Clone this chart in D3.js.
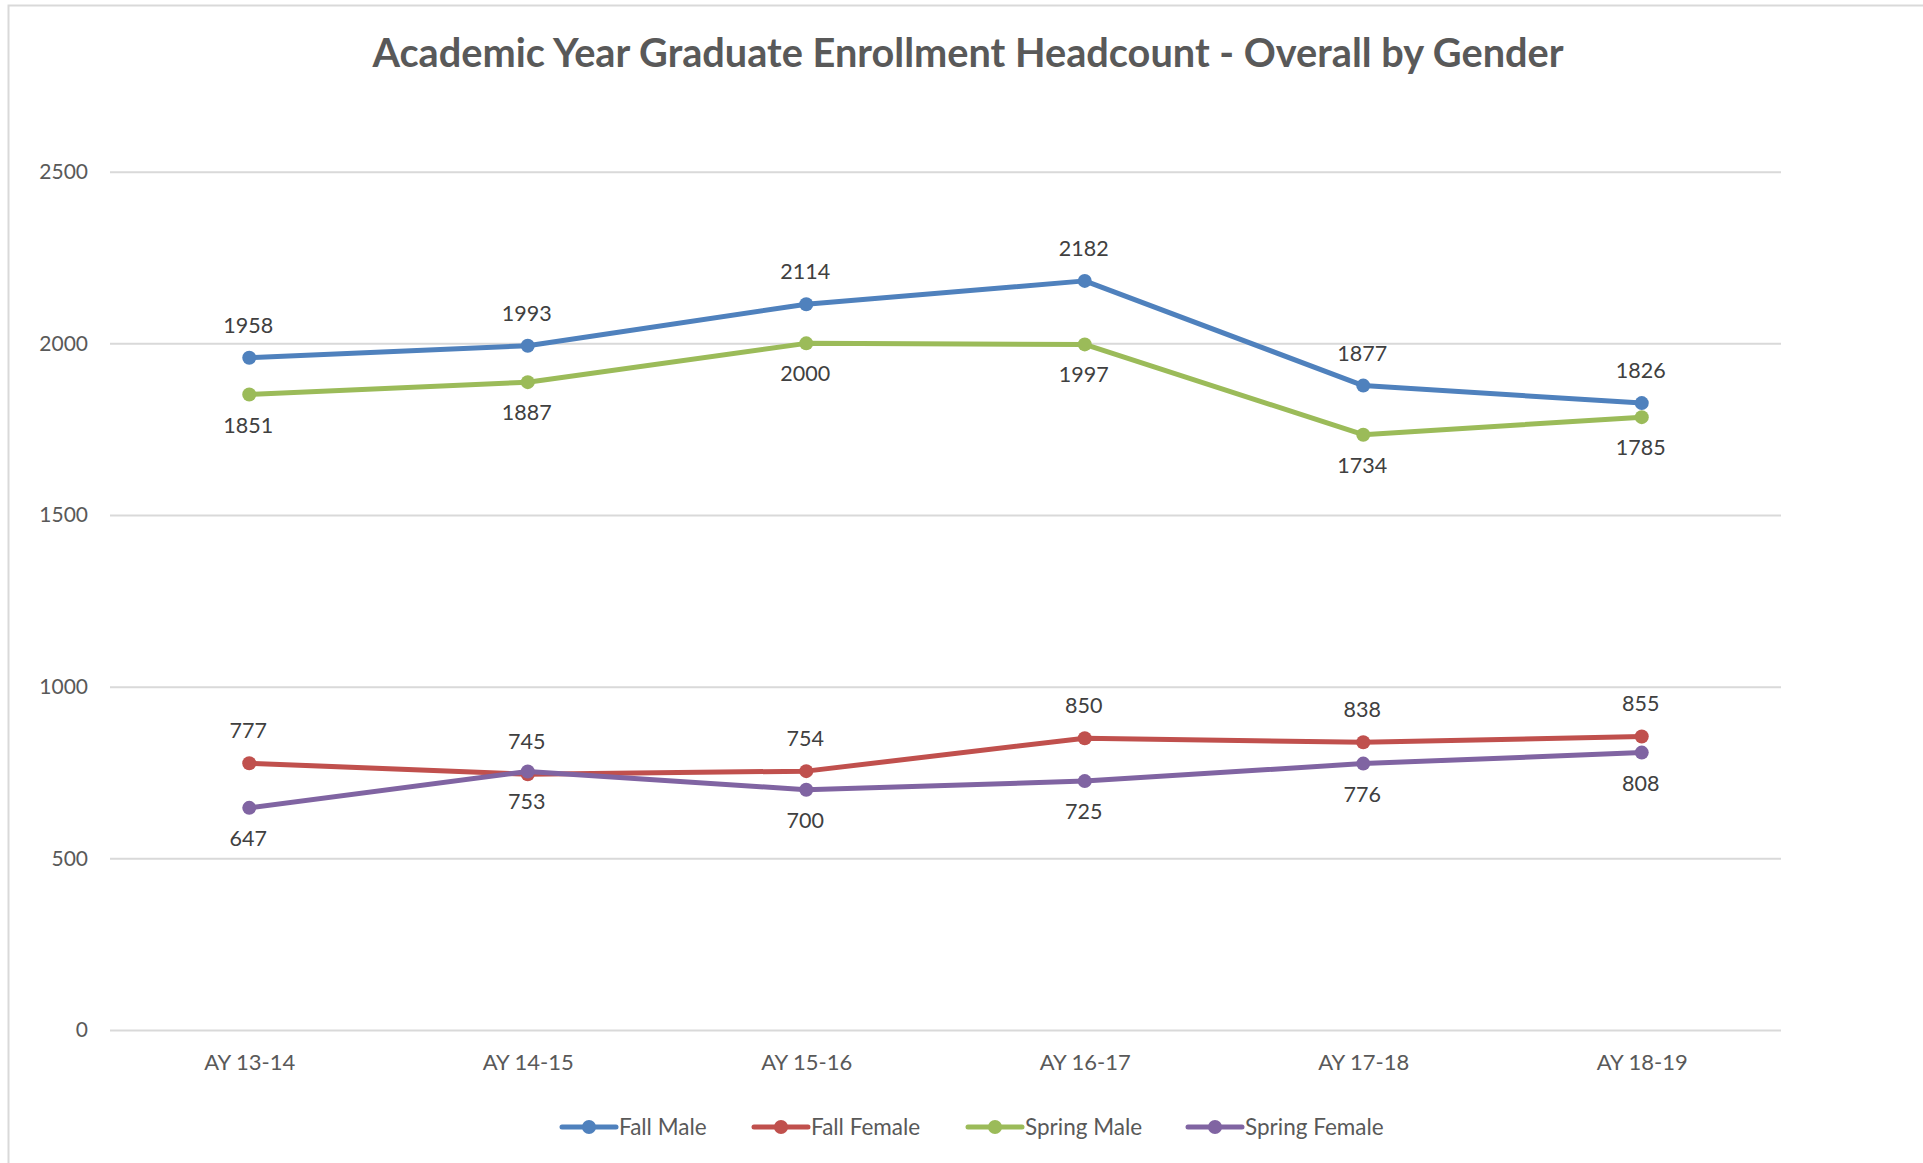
<!DOCTYPE html>
<html>
<head>
<meta charset="utf-8">
<script src="https://cdn.jsdelivr.net/npm/d3@7"></script>
<style>
  body { margin: 0; background: #fff; }
  svg { display: block; }
  text { font-family: Lato, "Open Sans", sans-serif; }
</style>
</head>
<body>
<div id="chart"></div>
<script>
// chart data
var categories = ["AY 13-14", "AY 14-15", "AY 15-16", "AY 16-17", "AY 17-18", "AY 18-19"];
var fallMale = [1958, 1993, 2114, 2182, 1877, 1826];
var fallFemale = [777, 745, 754, 850, 838, 855];
var springMale = [1851, 1887, 2000, 1997, 1734, 1785];
var springFemale = [647, 753, 700, 725, 776, 808];
var seriesNames = ["Fall Male", "Fall Female", "Spring Male", "Spring Female"];
var yTicks = [0, 500, 1000, 1500, 2000, 2500];

var w = 1923;
var h = 1163;
var colors = ["#4F81BD", "#C0504D", "#9BBB59", "#8064A2"];

var series = [
  {name: seriesNames[0], values: fallMale, above: true},
  {name: seriesNames[1], values: fallFemale, above: true},
  {name: seriesNames[2], values: springMale, above: false},
  {name: seriesNames[3], values: springFemale, above: false}
];

var svg = d3.select("#chart").append("svg")
  .attr("width", w)
  .attr("height", h);

// frame (left + top edges visible)
svg.append("rect")
  .attr("x", 8.5).attr("y", 5.5)
  .attr("width", w + 20).attr("height", h + 20)
  .attr("fill", "#fff")
  .attr("stroke", "#d9d9d9")
  .attr("stroke-width", 2);

svg.append("text")
  .attr("x", 968)
  .attr("y", 67)
  .attr("text-anchor", "middle")
  .attr("font-size", 39.7)
  .attr("font-weight", "bold")
  .attr("fill", "#595959")
  .text("Academic Year Graduate Enrollment Headcount - Overall by Gender");

var plotLeft = 110, plotRight = 1781, plotTop = 171.7, plotBottom = 1030;

var xScale = d3.scalePoint()
  .domain(categories)
  .range([plotLeft, plotRight])
  .padding(0.5);

var yScale = d3.scaleLinear()
  .domain([0, 2500])
  .range([plotBottom, plotTop]);

var yAxis = d3.axisLeft(yScale)
  .tickValues(yTicks)
  .tickFormat(d3.format("d"))
  .tickSizeInner(-(plotRight - plotLeft))
  .tickSizeOuter(0)
  .tickPadding(22);

var gy = svg.append("g")
  .attr("transform", "translate(" + plotLeft + ",0)")
  .call(yAxis);
gy.select(".domain").remove();
gy.selectAll(".tick line").attr("stroke", "#d9d9d9").attr("stroke-width", 2);
gy.selectAll(".tick text")
  .attr("font-size", 21)
  .attr("fill", "#595959")
  .style("font-family", "Lato, sans-serif");

var xAxis = d3.axisBottom(xScale)
  .tickSize(0)
  .tickPadding(24);

var gx = svg.append("g")
  .attr("transform", "translate(0," + plotBottom + ")")
  .call(xAxis);
gx.select(".domain").remove();
gx.selectAll(".tick text")
  .attr("font-size", 22)
  .attr("fill", "#595959")
  .style("font-family", "Lato, sans-serif");

var line = d3.line()
  .x(function(d, i) { return xScale(categories[i]); })
  .y(function(d) { return yScale(d); });

var g = svg.selectAll(".series")
  .data(series)
  .enter()
  .append("g")
  .attr("class", "series");

g.append("path")
  .attr("d", function(d) { return line(d.values); })
  .attr("fill", "none")
  .attr("stroke", function(d, i) { return colors[i]; })
  .attr("stroke-width", 5)
  .attr("stroke-linejoin", "round")
  .attr("stroke-linecap", "round");

g.each(function(s, si) {
  var gg = d3.select(this);
  gg.selectAll("circle")
    .data(s.values)
    .enter()
    .append("circle")
    .attr("cx", function(d, i) { return xScale(categories[i]); })
    .attr("cy", function(d) { return yScale(d); })
    .attr("r", 7)
    .attr("fill", colors[si]);
});

// data labels: fall above, spring below
g.each(function(s) {
  var gg = d3.select(this);
  gg.selectAll("text")
    .data(s.values)
    .enter()
    .append("text")
    .attr("x", function(d, i) { return xScale(categories[i]) - 1; })
    .attr("y", function(d) { return yScale(d) + (s.above ? -25 : 38); })
    .attr("text-anchor", "middle")
    .attr("font-size", 21.5)
    .attr("fill", "#404040")
    .text(function(d) { return d; });
});

// legend
var legendX = [562, 754, 968, 1188];
var legend = svg.selectAll(".legend")
  .data(series)
  .enter()
  .append("g")
  .attr("class", "legend")
  .attr("transform", function(d, i) { return "translate(" + legendX[i] + ",1127)"; });

legend.append("line")
  .attr("x1", 0).attr("x2", 54)
  .attr("stroke", function(d, i) { return colors[i]; })
  .attr("stroke-width", 5)
  .attr("stroke-linecap", "round");

legend.append("circle")
  .attr("cx", 27)
  .attr("r", 7)
  .attr("fill", function(d, i) { return colors[i]; });

legend.append("text")
  .attr("x", 57)
  .attr("y", 8)
  .attr("font-size", 22.5)
  .attr("fill", "#595959")
  .text(function(d) { return d.name; });
</script>
</body>
</html>
